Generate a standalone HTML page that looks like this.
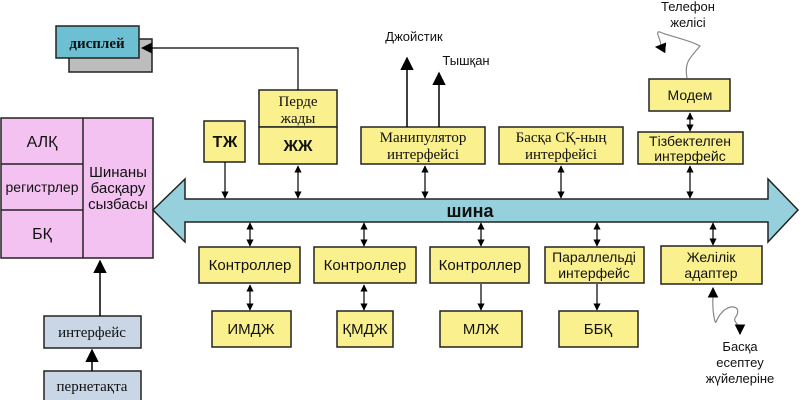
<!DOCTYPE html>
<html><head><meta charset="utf-8"><style>
html,body{margin:0;padding:0;background:#fff;}
svg{display:block;}
text{font-family:"Liberation Sans",sans-serif;}
.s{font-family:"Liberation Serif",serif;}
</style></head><body>
<svg width="800" height="400" viewBox="0 0 800 400" xmlns="http://www.w3.org/2000/svg">
<defs>
<marker id="a" viewBox="0 0 10 10" refX="9" refY="5" markerWidth="6" markerHeight="8" orient="auto-start-reverse"><path d="M0,0L10,5L0,10z" fill="#000"/></marker>
<marker id="b" viewBox="0 0 10 10" refX="9" refY="5" markerWidth="9" markerHeight="10" orient="auto-start-reverse"><path d="M0,0L10,5L0,10z" fill="#000"/></marker>
</defs>
<g stroke="#222" stroke-width="1.5">
<rect x="1" y="118" width="152" height="140" fill="#f3c2f1"/>
<line x1="83" y1="118" x2="83" y2="258"/>
<line x1="1" y1="164" x2="83" y2="164"/>
<line x1="1" y1="210" x2="83" y2="210"/>
<rect x="44" y="316" width="97" height="32" fill="#c8d6e6"/>
<rect x="44" y="371" width="97" height="30" fill="#c8d6e6"/>
<rect x="69" y="39" width="83" height="33" fill="#bdbdbd"/>
<rect x="56" y="26" width="83" height="32" fill="#6cc0d2"/>
<path d="M153,210 L185,179 L185,199 L768,199 L768,179 L798,210 L768,242 L768,222 L185,222 L185,242 Z" fill="#95d0dc"/>
<g fill="#faf18e">
<rect x="204" y="121" width="41" height="41"/>
<rect x="259" y="90" width="78" height="37"/>
<rect x="259" y="127" width="78" height="37"/>
<rect x="361" y="127" width="124" height="37"/>
<rect x="499" y="127" width="124" height="37"/>
<rect x="649" y="79" width="81" height="32"/>
<rect x="638" y="132" width="105" height="32"/>
<rect x="199" y="247" width="101" height="36"/>
<rect x="314" y="247" width="102" height="36"/>
<rect x="430" y="247" width="99" height="36"/>
<rect x="545" y="247" width="99" height="36"/>
<rect x="661" y="246" width="101" height="38"/>
<rect x="212" y="311" width="79" height="36"/>
<rect x="337" y="311" width="56" height="36"/>
<rect x="440" y="311" width="82" height="36"/>
<rect x="559" y="311" width="79" height="36"/>
</g>
</g>
<g stroke="#000" stroke-width="1.2" fill="none">
<path d="M298,90 L298,48 L142,48" marker-end="url(#b)"/>
<line x1="100" y1="316" x2="100" y2="261" marker-end="url(#b)" stroke-width="1.5"/>
<line x1="92" y1="371" x2="92" y2="350" marker-end="url(#b)" stroke-width="1.5"/>
<line x1="407" y1="127" x2="407" y2="58" marker-end="url(#b)" stroke-width="1.5"/>
<line x1="439" y1="127" x2="439" y2="73" marker-end="url(#b)" stroke-width="1.5"/>
<line x1="225" y1="162" x2="225" y2="198" marker-end="url(#a)"/>
<line x1="298" y1="166" x2="298" y2="198" marker-start="url(#a)" marker-end="url(#a)"/>
<line x1="425" y1="166" x2="425" y2="198" marker-start="url(#a)" marker-end="url(#a)"/>
<line x1="561" y1="166" x2="561" y2="198" marker-start="url(#a)" marker-end="url(#a)"/>
<line x1="690" y1="166" x2="690" y2="198" marker-start="url(#a)" marker-end="url(#a)"/>
<line x1="690" y1="113" x2="690" y2="131" marker-start="url(#a)" marker-end="url(#a)"/>
<line x1="250" y1="223" x2="250" y2="246" marker-start="url(#a)" marker-end="url(#a)"/>
<line x1="364" y1="223" x2="364" y2="246" marker-start="url(#a)" marker-end="url(#a)"/>
<line x1="481" y1="223" x2="481" y2="246" marker-start="url(#a)" marker-end="url(#a)"/>
<line x1="597" y1="223" x2="597" y2="246" marker-start="url(#a)" marker-end="url(#a)"/>
<line x1="713" y1="223" x2="713" y2="245" marker-start="url(#a)" marker-end="url(#a)"/>
<line x1="250" y1="285" x2="250" y2="310" marker-start="url(#a)" marker-end="url(#a)"/>
<line x1="364" y1="285" x2="364" y2="310" marker-start="url(#a)" marker-end="url(#a)"/>
<line x1="481" y1="284" x2="481" y2="310" marker-end="url(#a)"/>
<line x1="597" y1="284" x2="597" y2="310" marker-end="url(#a)"/>
<path d="M687,78 C684,62 690,58 700,46 C690,40 665,35 660,32 C652,30 668,48 656,47" stroke="#888" marker-end="url(#b)"/>
<path d="M713,296 C712,310 715,325 716,322 C725,300 745,305 735,318 C733,322 740,325 740,330" stroke="#888"/>
<line x1="713" y1="296" x2="713" y2="288" marker-end="url(#b)"/>
<line x1="740" y1="326" x2="740" y2="334" marker-end="url(#b)"/>
</g>
<g font-size="14" text-anchor="middle" fill="#111">
<text x="97" y="48" class="s" font-weight="bold" font-size="15">дисплей</text>
<text x="42" y="147" font-size="16">АЛҚ</text>
<text x="42" y="192" font-size="14">регистрлер</text>
<text x="42" y="239" font-size="16">БҚ</text>
<text x="118" y="177" font-size="15">Шинаны</text>
<text x="118" y="193" font-size="15">басқару</text>
<text x="118" y="209" font-size="15">сызбасы</text>
<text x="92" y="337" class="s" font-size="15">интерфейс</text>
<text x="92" y="391" class="s" font-size="15">пернетақта</text>
<text x="225" y="147" font-weight="bold" font-size="16">ТЖ</text>
<text x="298" y="106" class="s" font-size="15">Перде</text>
<text x="298" y="123" class="s" font-size="15">жады</text>
<text x="298" y="151" font-weight="bold" font-size="16">ЖЖ</text>
<text x="423" y="142" class="s" font-size="15">Манипулятор</text>
<text x="423" y="159" class="s" font-size="15">интерфейсі</text>
<text x="561" y="142" class="s" font-size="15">Басқа СҚ-ның</text>
<text x="561" y="159" class="s" font-size="15">интерфейсі</text>
<text x="414" y="41" font-size="13">Джойстик</text>
<text x="466" y="65" font-size="13">Тышқан</text>
<text x="688" y="11" font-size="13">Телефон</text>
<text x="688" y="27" font-size="13">желісі</text>
<text x="690" y="100" font-size="14">Модем</text>
<text x="690" y="146" font-size="14">Тізбектелген</text>
<text x="690" y="161" font-size="14">интерфейс</text>
<text x="470" y="217" font-weight="bold" font-size="18">шина</text>
<text x="250" y="270" font-size="15">Контроллер</text>
<text x="365" y="270" font-size="15">Контроллер</text>
<text x="480" y="270" font-size="15">Контроллер</text>
<text x="594" y="262" font-size="14">Параллельді</text>
<text x="594" y="278" font-size="14">интерфейс</text>
<text x="711" y="262" font-size="14">Желілік</text>
<text x="711" y="278" font-size="14">адаптер</text>
<text x="251" y="334" font-size="15">ИМДЖ</text>
<text x="365" y="334" font-size="15">ҚМДЖ</text>
<text x="481" y="334" font-size="15">МЛЖ</text>
<text x="598" y="334" font-size="15">ББҚ</text>
<text x="740" y="351" font-size="13">Басқа</text>
<text x="740" y="367" font-size="13">есептеу</text>
<text x="740" y="383" font-size="13">жүйелеріне</text>
</g>
</svg>
</body></html>
